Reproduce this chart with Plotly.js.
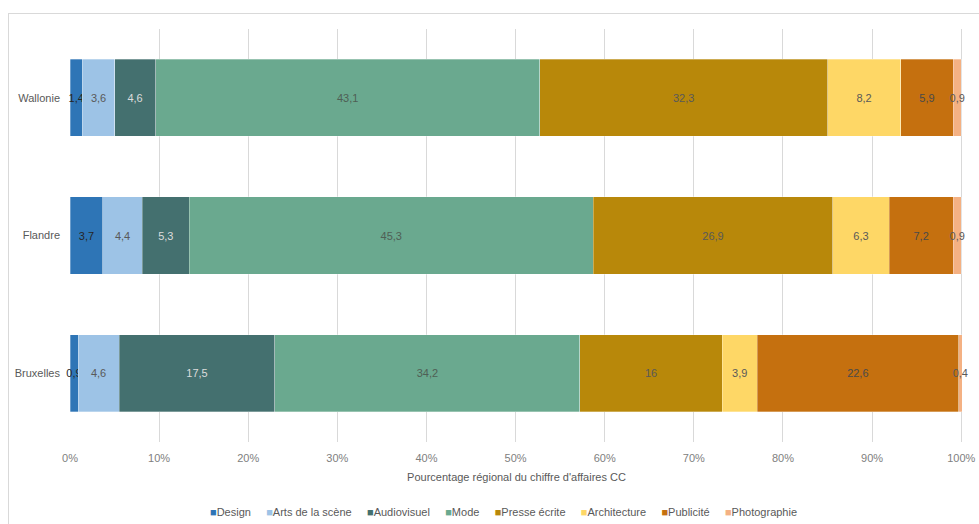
<!DOCTYPE html>
<html>
<head>
<meta charset="utf-8">
<script src="https://cdn.plot.ly/plotly-3.0.1.min.js"></script>
<style>
  html, body { margin: 0; padding: 0; background: #ffffff; overflow: hidden; }
  #wrap { position: relative; width: 979px; height: 524px; }
  #chart { position: absolute; left: 0; top: 0; width: 979px; height: 524px; }
  #frame { position: absolute; left: 8px; top: 13px; width: 1200px; height: 800px;
           border: 1px solid #d9d9d9; pointer-events: none; background: transparent; }
</style>
</head>
<body>
<div id="wrap">
  <div id="chart"></div>
  <div id="frame"></div>
</div>
<script>
// Regions, listed top to bottom
const regions = ['Wallonie', 'Flandre', 'Bruxelles'];

// Sectors of the creative & cultural industries
const sectors = ['Design', 'Arts de la scène', 'Audiovisuel', 'Mode',
                 'Presse écrite', 'Architecture', 'Publicité', 'Photographie'];

// Regional share of turnover per sector (%), in region order
const design        = [1.4, 3.7, 0.9];
const artsScene     = [3.6, 4.4, 4.6];
const audiovisuel   = [4.6, 5.3, 17.5];
const mode          = [43.1, 45.3, 34.2];
const presseEcrite  = [32.3, 26.9, 16];
const architecture  = [8.2, 6.3, 3.9];
const publicite     = [5.9, 7.2, 22.6];
const photographie  = [0.9, 0.9, 0.4];

const seriesValues = [design, artsScene, audiovisuel, mode,
                      presseEcrite, architecture, publicite, photographie];

const colors = ['#2e75b6', '#9dc3e6', '#44706f', '#6aa98f',
                '#b8880a', '#fed766', '#c5700f', '#f4b183'];
const labelColors = ['#262626', '#595959', '#dcdcdc', '#4f5f55',
                     '#595959', '#595959', '#4a4a4a', '#595959'];

const xTicks = [0, 10, 20, 30, 40, 50, 60, 70, 80, 90, 100];
const xTickText = xTicks.map(v => v + '%');

const fmt = v => String(v).replace('.', ',');
const FONT = 'Liberation Sans, Arial, sans-serif';

const traces = sectors.map((name, i) => ({
  type: 'bar',
  orientation: 'h',
  name: name,
  y: regions,
  x: seriesValues[i],
  text: seriesValues[i].map(fmt),
  textposition: 'inside',
  insidetextanchor: 'middle',
  textangle: 0,
  constraintext: 'none',
  cliponaxis: false,
  textfont: { family: FONT, size: 11, color: labelColors[i] },
  marker: { color: colors[i], line: { color: 'rgba(255,255,255,0.6)', width: 0.5 } },
  hoverinfo: 'name+x',
  showlegend: false
}));

// Compact legend line: coloured square followed by the sector name
const legendText = sectors.map((name, i) =>
  '<span style="color:' + colors[i] + '">■</span>' + name
).join('&nbsp;&nbsp;&nbsp;&nbsp;&nbsp;');

const layout = {
  width: 979,
  height: 524,
  barmode: 'stack',
  bargap: 0.44,
  paper_bgcolor: 'rgba(0,0,0,0)',
  plot_bgcolor: '#ffffff',
  margin: { l: 70, r: 16, t: 29, b: 82, pad: 0 },
  font: { family: FONT, size: 11, color: '#595959' },
  showlegend: false,
  xaxis: {
    // a little headroom past 100 so rounded totals (100,1) stay in view
    range: [0, 100.2],
    tickvals: xTicks,
    ticktext: xTickText,
    showgrid: true,
    gridcolor: '#d9d9d9',
    gridwidth: 1,
    zeroline: false,
    showline: false,
    ticks: '',
    ticklabelstandoff: 8,
    tickfont: { family: FONT, size: 11, color: '#808080' },
    title: {
      text: "Pourcentage régional du chiffre d'affaires CC",
      font: { family: FONT, size: 11, color: '#595959' },
      standoff: 10
    },
    fixedrange: true
  },
  yaxis: {
    type: 'category',
    autorange: 'reversed',
    showgrid: false,
    zeroline: false,
    showline: false,
    ticks: '',
    ticklabelstandoff: 9,
    tickfont: { family: FONT, size: 11, color: '#595959' },
    fixedrange: true
  },
  annotations: [{
    xref: 'paper', yref: 'paper',
    x: 0.486, y: -0.169,
    xanchor: 'center', yanchor: 'middle',
    showarrow: false,
    text: legendText,
    font: { family: FONT, size: 11, color: '#595959' }
  }]
};

Plotly.newPlot('chart', traces, layout, { displayModeBar: false, staticPlot: true });
</script>
</body>
</html>
